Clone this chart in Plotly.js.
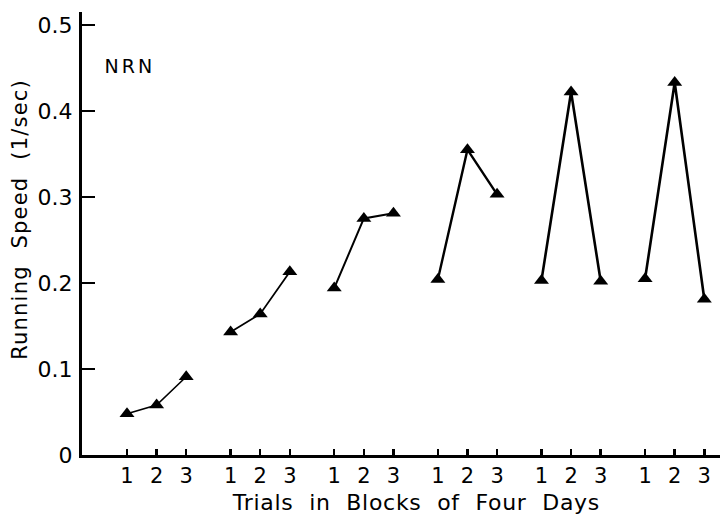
<!DOCTYPE html>
<html>
<head>
<meta charset="utf-8">
<script src="https://cdn.plot.ly/plotly-3.0.1.min.js"></script>
<style>
  html, body { margin: 0; padding: 0; background: #fff; }
  #chart { width: 720px; height: 516px; }
  .annotation.x-title .annotation-text { letter-spacing: 0.7px; word-spacing: 8px; }
  .annotation.y-title .annotation-text { letter-spacing: 1.2px; word-spacing: 9px; }
  .annotation.group-label .annotation-text { letter-spacing: 3px; }
</style>
</head>
<body>
<div id="chart"></div>
<script>
// Trials within each four-day block
const trials = [1, 2, 3];
const trialLabels = ['1', '2', '3'];

// Running speed (1/sec) per block, trials 1-3
const block1 = [0.048, 0.058, 0.091];
const block2 = [0.143, 0.164, 0.213];
const block3 = [0.194, 0.275, 0.281];
const block4 = [0.204, 0.355, 0.303];
const block5 = [0.203, 0.422, 0.202];
const block6 = [0.205, 0.433, 0.181];

const blocks = [block1, block2, block3, block4, block5, block6];

const speedTicks = [0, 0.1, 0.2, 0.3, 0.4, 0.5];
const speedTickLabels = ['0', '0.1', '0.2', '0.3', '0.4', '0.5'];

const groupLabel = 'NRN';
const xTitle = 'Trials in Blocks of Four Days';
const yTitle = 'Running Speed (1/sec)';

// Blocks are laid out side by side with a gap between them
const blockStep = 3.5;
const lineWidths = [1.6, 1.8, 2.0, 2.4, 2.6, 2.6];

const traces = blocks.map((speeds, b) => ({
  type: 'scatter',
  mode: 'lines+markers',
  x: trials.map(t => b * blockStep + t),
  y: speeds,
  line: { color: '#000', width: lineWidths[b] },
  marker: { symbol: 'triangle-up', size: 13, color: '#000' },
  showlegend: false,
  hoverinfo: 'x+y'
}));

const tickVals = [];
const tickText = [];
blocks.forEach((_, b) => {
  trials.forEach((t, i) => {
    tickVals.push(b * blockStep + t);
    tickText.push(trialLabels[i]);
  });
});
const tickCentre = (tickVals[0] + tickVals[tickVals.length - 1]) / 2;

const font = { family: 'DejaVu Sans, sans-serif', color: '#000' };

const layout = {
  width: 720,
  height: 516,
  margin: { l: 82, r: 0, t: 12, b: 61 },
  paper_bgcolor: '#fff',
  plot_bgcolor: '#fff',
  font: Object.assign({ size: 22 }, font),
  xaxis: {
    range: [-0.52, 21.03],
    tickmode: 'array',
    tickvals: tickVals,
    ticktext: tickText,
    ticks: 'inside',
    ticklen: 6,
    tickwidth: 2.5,
    tickcolor: '#000',
    showline: true,
    linecolor: '#000',
    linewidth: 3,
    showgrid: false,
    zeroline: false,
    ticklabelstandoff: 0,
    tickfont: Object.assign({ size: 21 }, font)
  },
  yaxis: {
    range: [0, 0.515],
    tickmode: 'array',
    tickvals: speedTicks,
    ticktext: speedTickLabels,
    ticks: 'inside',
    ticklen: 13,
    tickwidth: 2.5,
    tickcolor: '#000',
    showline: true,
    linecolor: '#000',
    linewidth: 3,
    showgrid: false,
    zeroline: false,
    ticklabelstandoff: 2,
    tickfont: Object.assign({ size: 22 }, font)
  },
  annotations: [
    {
      name: 'group-label',
      x: 1.1, y: 0.452, xref: 'x', yref: 'y',
      text: groupLabel, showarrow: false,
      font: Object.assign({ size: 19 }, font)
    },
    {
      name: 'x-title',
      x: tickCentre, y: 0, xref: 'x', yref: 'paper',
      yanchor: 'top', yshift: -33,
      text: xTitle, showarrow: false,
      font: Object.assign({ size: 22 }, font)
    },
    {
      name: 'y-title',
      x: 0, y: 0.273, xref: 'paper', yref: 'y',
      xanchor: 'center', xshift: -62,
      textangle: -90,
      text: yTitle, showarrow: false,
      font: Object.assign({ size: 21 }, font)
    }
  ]
};

Plotly.newPlot('chart', traces, layout, { staticPlot: true, displayModeBar: false }).then(gd => {
  // tag annotation groups so the stylesheet can space their lettering
  const names = layout.annotations.map(a => a.name);
  gd.querySelectorAll('.annotation').forEach((g, i) => {
    if (names[i]) g.classList.add(names[i]);
  });
});
</script>
</body>
</html>
